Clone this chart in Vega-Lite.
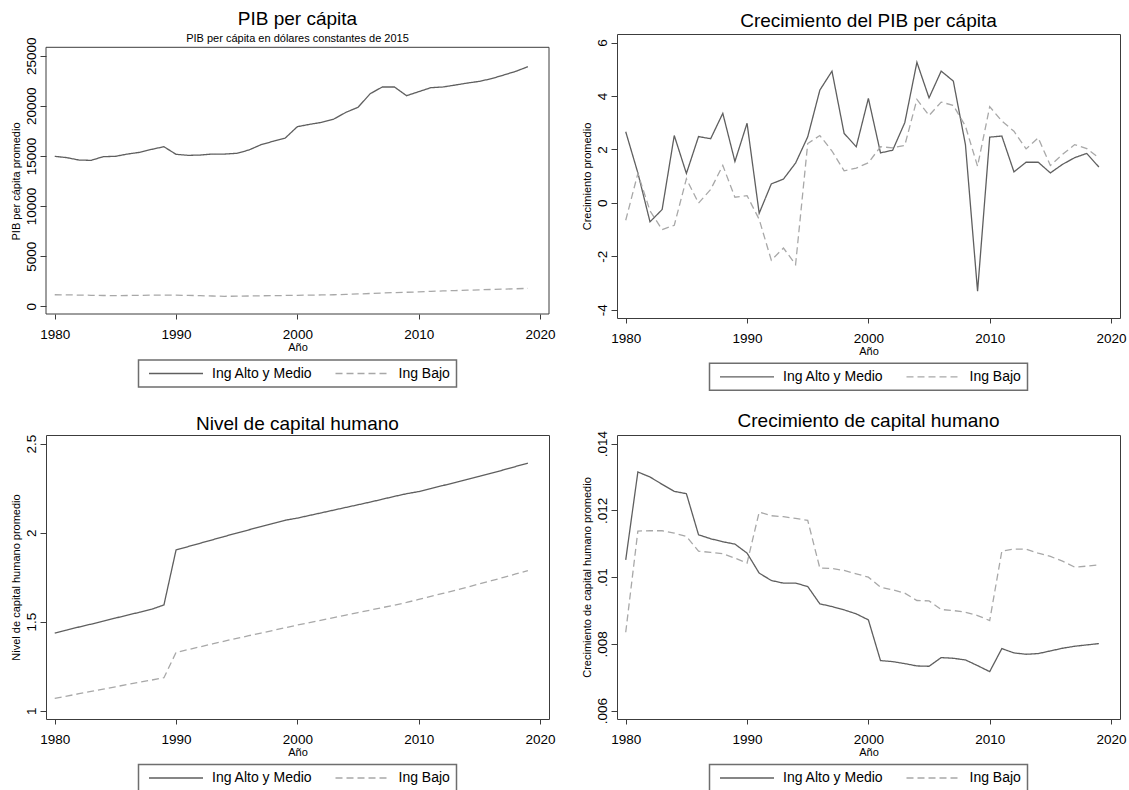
{
  "$schema": "https://vega.github.io/schema/vega-lite/v6.json",
  "background": "white",
  "padding": {"left": 10, "top": 10, "right": 0, "bottom": 0},
  "datasets": {
    "gdp": [
      {"year":1980,"Ing Alto y Medio":14960,"Ing Bajo":1150},{"year":1981,"Ing Alto y Medio":14830,"Ing Bajo":1140},{"year":1982,"Ing Alto y Medio":14590,"Ing Bajo":1120},{"year":1983,"Ing Alto y Medio":14560,"Ing Bajo":1100},{"year":1984,"Ing Alto y Medio":14930,"Ing Bajo":1080},{"year":1985,"Ing Alto y Medio":14960,"Ing Bajo":1070},{"year":1986,"Ing Alto y Medio":15190,"Ing Bajo":1080},{"year":1987,"Ing Alto y Medio":15360,"Ing Bajo":1090},{"year":1988,"Ing Alto y Medio":15660,"Ing Bajo":1110},{"year":1989,"Ing Alto y Medio":15920,"Ing Bajo":1120},
      {"year":1990,"Ing Alto y Medio":15160,"Ing Bajo":1110},{"year":1991,"Ing Alto y Medio":15060,"Ing Bajo":1090},{"year":1992,"Ing Alto y Medio":15090,"Ing Bajo":1060},{"year":1993,"Ing Alto y Medio":15190,"Ing Bajo":1030},{"year":1994,"Ing Alto y Medio":15190,"Ing Bajo":1000},{"year":1995,"Ing Alto y Medio":15260,"Ing Bajo":1010},{"year":1996,"Ing Alto y Medio":15590,"Ing Bajo":1030},{"year":1997,"Ing Alto y Medio":16120,"Ing Bajo":1050},{"year":1998,"Ing Alto y Medio":16460,"Ing Bajo":1060},{"year":1999,"Ing Alto y Medio":16790,"Ing Bajo":1080},
      {"year":2000,"Ing Alto y Medio":17920,"Ing Bajo":1100},{"year":2001,"Ing Alto y Medio":18150,"Ing Bajo":1110},{"year":2002,"Ing Alto y Medio":18350,"Ing Bajo":1130},{"year":2003,"Ing Alto y Medio":18680,"Ing Bajo":1150},{"year":2004,"Ing Alto y Medio":19350,"Ing Bajo":1190},{"year":2005,"Ing Alto y Medio":19850,"Ing Bajo":1230},{"year":2006,"Ing Alto y Medio":21210,"Ing Bajo":1280},{"year":2007,"Ing Alto y Medio":21880,"Ing Bajo":1330},{"year":2008,"Ing Alto y Medio":21880,"Ing Bajo":1370},{"year":2009,"Ing Alto y Medio":21010,"Ing Bajo":1400},
      {"year":2010,"Ing Alto y Medio":21410,"Ing Bajo":1440},{"year":2011,"Ing Alto y Medio":21810,"Ing Bajo":1490},{"year":2012,"Ing Alto y Medio":21880,"Ing Bajo":1530},{"year":2013,"Ing Alto y Medio":22070,"Ing Bajo":1570},{"year":2014,"Ing Alto y Medio":22270,"Ing Bajo":1610},{"year":2015,"Ing Alto y Medio":22440,"Ing Bajo":1640},{"year":2016,"Ing Alto y Medio":22710,"Ing Bajo":1680},{"year":2017,"Ing Alto y Medio":23070,"Ing Bajo":1710},{"year":2018,"Ing Alto y Medio":23440,"Ing Bajo":1750},{"year":2019,"Ing Alto y Medio":23900,"Ing Bajo":1790}
    ],
    "growth": [
      {"year":1980,"Ing Alto y Medio":2.66,"Ing Bajo":-0.65},{"year":1981,"Ing Alto y Medio":1.12,"Ing Bajo":1.10},{"year":1982,"Ing Alto y Medio":-0.71,"Ing Bajo":-0.30},{"year":1983,"Ing Alto y Medio":-0.25,"Ing Bajo":-1.00},{"year":1984,"Ing Alto y Medio":2.52,"Ing Bajo":-0.84},{"year":1985,"Ing Alto y Medio":1.10,"Ing Bajo":0.90},{"year":1986,"Ing Alto y Medio":2.48,"Ing Bajo":-0.01},{"year":1987,"Ing Alto y Medio":2.40,"Ing Bajo":0.50},{"year":1988,"Ing Alto y Medio":3.35,"Ing Bajo":1.40},{"year":1989,"Ing Alto y Medio":1.55,"Ing Bajo":0.21},
      {"year":1990,"Ing Alto y Medio":2.98,"Ing Bajo":0.27},{"year":1991,"Ing Alto y Medio":-0.39,"Ing Bajo":-0.62},{"year":1992,"Ing Alto y Medio":0.71,"Ing Bajo":-2.15},{"year":1993,"Ing Alto y Medio":0.89,"Ing Bajo":-1.69},{"year":1994,"Ing Alto y Medio":1.49,"Ing Bajo":-2.31},{"year":1995,"Ing Alto y Medio":2.47,"Ing Bajo":2.22},{"year":1996,"Ing Alto y Medio":4.22,"Ing Bajo":2.52},{"year":1997,"Ing Alto y Medio":4.93,"Ing Bajo":1.94},{"year":1998,"Ing Alto y Medio":2.60,"Ing Bajo":1.20},{"year":1999,"Ing Alto y Medio":2.10,"Ing Bajo":1.30},
      {"year":2000,"Ing Alto y Medio":3.91,"Ing Bajo":1.50},{"year":2001,"Ing Alto y Medio":1.87,"Ing Bajo":2.10},{"year":2002,"Ing Alto y Medio":1.97,"Ing Bajo":2.06},{"year":2003,"Ing Alto y Medio":3.00,"Ing Bajo":2.15},{"year":2004,"Ing Alto y Medio":5.26,"Ing Bajo":3.87},{"year":2005,"Ing Alto y Medio":3.93,"Ing Bajo":3.27},{"year":2006,"Ing Alto y Medio":4.93,"Ing Bajo":3.77},{"year":2007,"Ing Alto y Medio":4.56,"Ing Bajo":3.65},{"year":2008,"Ing Alto y Medio":2.18,"Ing Bajo":2.87},{"year":2009,"Ing Alto y Medio":-3.31,"Ing Bajo":1.37},
      {"year":2010,"Ing Alto y Medio":2.46,"Ing Bajo":3.60},{"year":2011,"Ing Alto y Medio":2.50,"Ing Bajo":3.06},{"year":2012,"Ing Alto y Medio":1.16,"Ing Bajo":2.68},{"year":2013,"Ing Alto y Medio":1.52,"Ing Bajo":2.02},{"year":2014,"Ing Alto y Medio":1.52,"Ing Bajo":2.43},{"year":2015,"Ing Alto y Medio":1.12,"Ing Bajo":1.40},{"year":2016,"Ing Alto y Medio":1.44,"Ing Bajo":1.81},{"year":2017,"Ing Alto y Medio":1.69,"Ing Bajo":2.18},{"year":2018,"Ing Alto y Medio":1.85,"Ing Bajo":2.03},{"year":2019,"Ing Alto y Medio":1.34,"Ing Bajo":1.69}
    ],
    "hc": [
      {"year":1980,"Ing Alto y Medio":1.436,"Ing Bajo":1.069},{"year":1981,"Ing Alto y Medio":1.453,"Ing Bajo":1.082},{"year":1982,"Ing Alto y Medio":1.470,"Ing Bajo":1.095},{"year":1983,"Ing Alto y Medio":1.486,"Ing Bajo":1.108},{"year":1984,"Ing Alto y Medio":1.503,"Ing Bajo":1.121},{"year":1985,"Ing Alto y Medio":1.520,"Ing Bajo":1.134},{"year":1986,"Ing Alto y Medio":1.537,"Ing Bajo":1.147},{"year":1987,"Ing Alto y Medio":1.553,"Ing Bajo":1.160},{"year":1988,"Ing Alto y Medio":1.570,"Ing Bajo":1.172},{"year":1989,"Ing Alto y Medio":1.594,"Ing Bajo":1.185},
      {"year":1990,"Ing Alto y Medio":1.903,"Ing Bajo":1.327},{"year":1991,"Ing Alto y Medio":1.922,"Ing Bajo":1.343},{"year":1992,"Ing Alto y Medio":1.941,"Ing Bajo":1.359},{"year":1993,"Ing Alto y Medio":1.960,"Ing Bajo":1.375},{"year":1994,"Ing Alto y Medio":1.979,"Ing Bajo":1.391},{"year":1995,"Ing Alto y Medio":1.998,"Ing Bajo":1.406},{"year":1996,"Ing Alto y Medio":2.016,"Ing Bajo":1.421},{"year":1997,"Ing Alto y Medio":2.034,"Ing Bajo":1.436},{"year":1998,"Ing Alto y Medio":2.052,"Ing Bajo":1.451},{"year":1999,"Ing Alto y Medio":2.070,"Ing Bajo":1.466},
      {"year":2000,"Ing Alto y Medio":2.082,"Ing Bajo":1.481},{"year":2001,"Ing Alto y Medio":2.097,"Ing Bajo":1.495},{"year":2002,"Ing Alto y Medio":2.112,"Ing Bajo":1.509},{"year":2003,"Ing Alto y Medio":2.127,"Ing Bajo":1.523},{"year":2004,"Ing Alto y Medio":2.142,"Ing Bajo":1.537},{"year":2005,"Ing Alto y Medio":2.157,"Ing Bajo":1.551},{"year":2006,"Ing Alto y Medio":2.172,"Ing Bajo":1.565},{"year":2007,"Ing Alto y Medio":2.188,"Ing Bajo":1.579},{"year":2008,"Ing Alto y Medio":2.204,"Ing Bajo":1.593},{"year":2009,"Ing Alto y Medio":2.219,"Ing Bajo":1.608},
      {"year":2010,"Ing Alto y Medio":2.231,"Ing Bajo":1.625},{"year":2011,"Ing Alto y Medio":2.248,"Ing Bajo":1.642},{"year":2012,"Ing Alto y Medio":2.265,"Ing Bajo":1.659},{"year":2013,"Ing Alto y Medio":2.282,"Ing Bajo":1.676},{"year":2014,"Ing Alto y Medio":2.299,"Ing Bajo":1.694},{"year":2015,"Ing Alto y Medio":2.317,"Ing Bajo":1.712},{"year":2016,"Ing Alto y Medio":2.335,"Ing Bajo":1.730},{"year":2017,"Ing Alto y Medio":2.353,"Ing Bajo":1.749},{"year":2018,"Ing Alto y Medio":2.372,"Ing Bajo":1.768},{"year":2019,"Ing Alto y Medio":2.391,"Ing Bajo":1.787}
    ],
    "hcg": [
      {"year":1980,"Ing Alto y Medio":0.01052,"Ing Bajo":0.00835},{"year":1981,"Ing Alto y Medio":0.01315,"Ing Bajo":0.01138},{"year":1982,"Ing Alto y Medio":0.01300,"Ing Bajo":0.01139},{"year":1983,"Ing Alto y Medio":0.01278,"Ing Bajo":0.01139},{"year":1984,"Ing Alto y Medio":0.01257,"Ing Bajo":0.01132},{"year":1985,"Ing Alto y Medio":0.01250,"Ing Bajo":0.01122},{"year":1986,"Ing Alto y Medio":0.01127,"Ing Bajo":0.01078},{"year":1987,"Ing Alto y Medio":0.01115,"Ing Bajo":0.01074},{"year":1988,"Ing Alto y Medio":0.01106,"Ing Bajo":0.01070},{"year":1989,"Ing Alto y Medio":0.01099,"Ing Bajo":0.01057},
      {"year":1990,"Ing Alto y Medio":0.01072,"Ing Bajo":0.01042},{"year":1991,"Ing Alto y Medio":0.01012,"Ing Bajo":0.01195},{"year":1992,"Ing Alto y Medio":0.00990,"Ing Bajo":0.01184},{"year":1993,"Ing Alto y Medio":0.00982,"Ing Bajo":0.01181},{"year":1994,"Ing Alto y Medio":0.00982,"Ing Bajo":0.01176},{"year":1995,"Ing Alto y Medio":0.00972,"Ing Bajo":0.01170},{"year":1996,"Ing Alto y Medio":0.00920,"Ing Bajo":0.01027},{"year":1997,"Ing Alto y Medio":0.00912,"Ing Bajo":0.01026},{"year":1998,"Ing Alto y Medio":0.00902,"Ing Bajo":0.01020},{"year":1999,"Ing Alto y Medio":0.00890,"Ing Bajo":0.01010},
      {"year":2000,"Ing Alto y Medio":0.00872,"Ing Bajo":0.01000},{"year":2001,"Ing Alto y Medio":0.00750,"Ing Bajo":0.00970},{"year":2002,"Ing Alto y Medio":0.00747,"Ing Bajo":0.00962},{"year":2003,"Ing Alto y Medio":0.00741,"Ing Bajo":0.00952},{"year":2004,"Ing Alto y Medio":0.00734,"Ing Bajo":0.00930},{"year":2005,"Ing Alto y Medio":0.00733,"Ing Bajo":0.00929},{"year":2006,"Ing Alto y Medio":0.00759,"Ing Bajo":0.00903},{"year":2007,"Ing Alto y Medio":0.00757,"Ing Bajo":0.00900},{"year":2008,"Ing Alto y Medio":0.00752,"Ing Bajo":0.00895},{"year":2009,"Ing Alto y Medio":0.00735,"Ing Bajo":0.00885},
      {"year":2010,"Ing Alto y Medio":0.00717,"Ing Bajo":0.00870},{"year":2011,"Ing Alto y Medio":0.00786,"Ing Bajo":0.01078},{"year":2012,"Ing Alto y Medio":0.00773,"Ing Bajo":0.01084},{"year":2013,"Ing Alto y Medio":0.00769,"Ing Bajo":0.01084},{"year":2014,"Ing Alto y Medio":0.00771,"Ing Bajo":0.01072},{"year":2015,"Ing Alto y Medio":0.00779,"Ing Bajo":0.01062},{"year":2016,"Ing Alto y Medio":0.00787,"Ing Bajo":0.01048},{"year":2017,"Ing Alto y Medio":0.00793,"Ing Bajo":0.01030},{"year":2018,"Ing Alto y Medio":0.00797,"Ing Bajo":0.01033},{"year":2019,"Ing Alto y Medio":0.00801,"Ing Bajo":0.01037}
    ]
  },
  "columns": 2,
  "spacing": {"row": 19, "column": 25},
  "resolve": {
    "scale": {"color": "independent", "strokeDash": "independent"},
    "legend": {"color": "independent", "strokeDash": "independent"}
  },
  "concat": [
    {
      "width": 503, "height": 280,
      "view": {"stroke": null},
      "title": {"text": "PIB per cápita", "subtitle": "PIB per cápita en dólares constantes de 2015", "offset": -10},
      "layer": [
        {
          "data": {"name": "gdp"},
          "transform": [{"fold": ["Ing Alto y Medio", "Ing Bajo"], "as": ["grupo", "valor"]}],
          "mark": {"type": "line", "strokeWidth": 1.3},
          "encoding": {
            "x": {"field": "year", "type": "quantitative", "scale": {"domain": [1979.28, 2020.74], "nice": false, "zero": false}, "axis": {"values": [1980, 1990, 2000, 2010, 2020], "format": "d", "title": "Año"}},
            "y": {"field": "valor", "type": "quantitative", "scale": {"domain": [-768, 27165], "nice": false, "zero": false}, "axis": {"values": [0, 5000, 10000, 15000, 20000, 25000], "format": "d", "title": "PIB per cápita promedio", "titleY": 147}},
            "color": {"field": "grupo", "type": "nominal", "scale": {"domain": ["Ing Alto y Medio", "Ing Bajo"], "range": ["#5f5f5f", "#a8a8a8"]}, "legend": {"title": null, "legendX": 92.5, "legendY": 326}},
            "strokeDash": {"field": "grupo", "type": "nominal", "scale": {"domain": ["Ing Alto y Medio", "Ing Bajo"], "range": [[1, 0], [7, 4]]}, "legend": {"title": null, "legendX": 92.5, "legendY": 326}}
          }
        },
        {
          "data": {"values": [{}]},
          "mark": {"type": "rect", "fill": "transparent", "stroke": "#3c3c3c", "strokeWidth": 1},
          "encoding": {
            "x": {"datum": 1979.28, "type": "quantitative"},
            "x2": {"datum": 2020.74},
            "y": {"datum": -768, "type": "quantitative"},
            "y2": {"datum": 25838}
          }
        }
      ]
    },
    {
      "width": 503, "height": 284,
      "title": {"text": "Crecimiento del PIB per cápita", "offset": 3},
      "data": {"name": "growth"},
      "transform": [{"fold": ["Ing Alto y Medio", "Ing Bajo"], "as": ["grupo", "valor"]}],
      "mark": {"type": "line", "strokeWidth": 1.3},
      "encoding": {
        "x": {"field": "year", "type": "quantitative", "scale": {"domain": [1979.28, 2020.74], "nice": false, "zero": false}, "axis": {"values": [1980, 1990, 2000, 2010, 2020], "format": "d", "title": "Año"}},
        "y": {"field": "valor", "type": "quantitative", "scale": {"domain": [-4.31, 6.32], "nice": false, "zero": false}, "axis": {"values": [-4, -2, 0, 2, 4, 6], "labelExpr": "replace(datum.label, '−', '-')", "title": "Crecimiento promedio"}},
        "color": {"field": "grupo", "type": "nominal", "scale": {"domain": ["Ing Alto y Medio", "Ing Bajo"], "range": ["#5f5f5f", "#a8a8a8"]}, "legend": {"title": null, "legendX": 92.5, "legendY": 329.3}},
        "strokeDash": {"field": "grupo", "type": "nominal", "scale": {"domain": ["Ing Alto y Medio", "Ing Bajo"], "range": [[1, 0], [7, 4]]}, "legend": {"title": null, "legendX": 92.5, "legendY": 329.3}}
      }
    },
    {
      "width": 503, "height": 284,
      "title": {"text": "Nivel de capital humano", "offset": 0.8},
      "data": {"name": "hc"},
      "transform": [{"fold": ["Ing Alto y Medio", "Ing Bajo"], "as": ["grupo", "valor"]}],
      "mark": {"type": "line", "strokeWidth": 1.3},
      "encoding": {
        "x": {"field": "year", "type": "quantitative", "scale": {"domain": [1979.28, 2020.74], "nice": false, "zero": false}, "axis": {"values": [1980, 1990, 2000, 2010, 2020], "format": "d", "title": "Año"}},
        "y": {"field": "valor", "type": "quantitative", "scale": {"domain": [0.953, 2.549], "nice": false, "zero": false}, "axis": {"values": [1, 1.5, 2, 2.5], "format": "~g", "title": "Nivel de capital humano promedio"}},
        "color": {"field": "grupo", "type": "nominal", "scale": {"domain": ["Ing Alto y Medio", "Ing Bajo"], "range": ["#5f5f5f", "#a8a8a8"]}, "legend": {"title": null, "legendX": 92.5, "legendY": 329.5}},
        "strokeDash": {"field": "grupo", "type": "nominal", "scale": {"domain": ["Ing Alto y Medio", "Ing Bajo"], "range": [[1, 0], [7, 4]]}, "legend": {"title": null, "legendX": 92.5, "legendY": 329.5}}
      }
    },
    {
      "width": 503, "height": 284,
      "title": {"text": "Crecimiento de capital humano", "offset": -0.5},
      "data": {"name": "hcg"},
      "transform": [{"fold": ["Ing Alto y Medio", "Ing Bajo"], "as": ["grupo", "valor"]}],
      "mark": {"type": "line", "strokeWidth": 1.3},
      "encoding": {
        "x": {"field": "year", "type": "quantitative", "scale": {"domain": [1979.28, 2020.74], "nice": false, "zero": false}, "axis": {"values": [1980, 1990, 2000, 2010, 2020], "format": "d", "title": "Año"}},
        "y": {"field": "valor", "type": "quantitative", "scale": {"domain": [0.005751, 0.014258], "nice": false, "zero": false}, "axis": {"values": [0.006, 0.008, 0.01, 0.012, 0.014], "labelExpr": "replace(format(datum.value, '.3~f'), '0.', '.')", "title": "Crecimiento de capital humano promedio"}},
        "color": {"field": "grupo", "type": "nominal", "scale": {"domain": ["Ing Alto y Medio", "Ing Bajo"], "range": ["#5f5f5f", "#a8a8a8"]}, "legend": {"title": null, "legendX": 92.5, "legendY": 329.5}},
        "strokeDash": {"field": "grupo", "type": "nominal", "scale": {"domain": ["Ing Alto y Medio", "Ing Bajo"], "range": [[1, 0], [7, 4]]}, "legend": {"title": null, "legendX": 92.5, "legendY": 329.5}}
      }
    }
  ],
  "config": {
    "font": "Liberation Sans",
    "view": {"stroke": "#3c3c3c", "strokeWidth": 1},
    "axis": {
      "domain": false, "grid": false,
      "tickColor": "#3c3c3c", "tickSize": 5, "tickWidth": 1,
      "labelColor": "#000", "labelFontSize": 13.5, "labelPadding": 8,
      "titleColor": "#000", "titleFontSize": 11, "titleFontWeight": "normal", "titlePadding": 1
    },
    "axisY": {"tickSize": 6, "labelAngle": 270, "labelAlign": "center", "labelBaseline": "alphabetic", "labelPadding": 4.5, "titlePadding": 3},
    "title": {"fontSize": 19, "fontWeight": "normal", "color": "#000", "anchor": "middle", "frame": "group", "subtitleFontSize": 11, "subtitleColor": "#000", "subtitlePadding": 4},
    "legend": {
      "orient": "none", "direction": "horizontal", "columns": 2,
      "symbolType": "M-9,0H9", "symbolSize": 36, "symbolOffset": 24, "symbolStrokeWidth": 1.3,
      "labelFontSize": 14, "labelColor": "#000", "labelOffset": 29, "columnPadding": 18.5,
      "padding": 6.5, "strokeColor": "#6e6e6e", "strokeWidth": 1.5
    }
  }
}
